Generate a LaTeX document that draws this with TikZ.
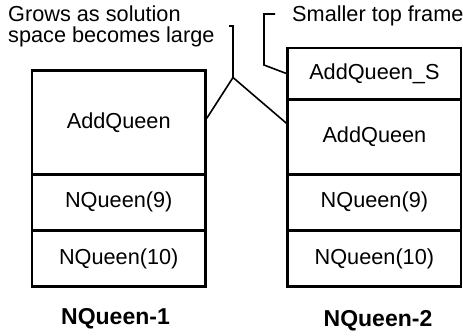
\documentclass[tikz,border=0pt]{standalone}
\usepackage{fontspec}
\setmainfont{Liberation Sans}
\begin{document}
\begin{tikzpicture}[x=1pt,y=-1pt,
  frame/.style={draw,line width=2.6pt,inner sep=0pt,minimum width=173.5pt,
    font=\fontsize{21.7}{21}\selectfont},
  note/.style={inner sep=0pt,align=left,font=\fontsize{21.7}{21}\selectfont},
  title/.style={inner sep=0pt,font=\fontsize{23}{23}\selectfont\bfseries},
  lead/.style={line width=1.6pt}]
\useasboundingbox (0,0) rectangle (463,335);

% stack of frames: NQueen-1
\node[frame,minimum height=103.9pt] (aq1) at (118.75,122.25) {AddQueen};
\node[frame,minimum height=56.3pt]  (n91) at (118.75,202.35) {NQueen(9)};
\node[frame,minimum height=55.8pt]  (n101) at (118.75,258.4) {NQueen(10)};

% stack of frames: NQueen-2
\node[frame,minimum height=51.4pt]  (aqs) at (374.4,73.5) {AddQueen\_S};
\node[frame,minimum height=75pt]    (aq2) at (374.4,136.7) {AddQueen};
\node[frame,minimum height=56.3pt]  (n92) at (374.4,202.35) {NQueen(9)};
\node[frame,minimum height=55.8pt]  (n102) at (374.4,258.4) {NQueen(10)};

% titles
\node[title,anchor=base] (t1) at (115.5,324) {NQueen-1};
\node[title,anchor=base] (t2) at (378,326) {NQueen-2};

% annotations (base anchor sits on the last line)
\node[note,anchor=base west] (grow) at (8,42) {Grows as solution\\space becomes large};
\node[note,anchor=base west] (small) at (292,21.5) {Smaller top frame};

% leader for the growing frame
\coordinate (g1) at (229,26);
\coordinate (g2) at (233,26);
\coordinate (g3) at (233,77.5);
\draw[lead] (g1) -- (g2) -- (g3) -- ([yshift=4pt]aq1.east);
\draw[lead] (g3) -- ([yshift=13.5pt]aq2.west);

% leader for the small top frame
\coordinate (s1) at (275,14);
\coordinate (s2) at (264,14);
\coordinate (s3) at (264,65);
\draw[lead] (s1) -- (s2) -- (s3) -- (aqs.west);
\end{tikzpicture}
\end{document}
